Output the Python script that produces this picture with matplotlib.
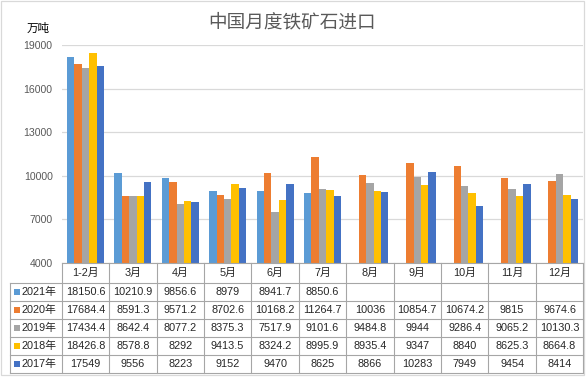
import numpy as np
import matplotlib
matplotlib.use("Agg")
import matplotlib.pyplot as plt
from matplotlib.patches import Rectangle
from matplotlib.lines import Line2D

plt.rcParams['font.family'] = ['Liberation Sans', 'Noto Sans CJK SC', 'DejaVu Sans']

months = ['1-2月', '3月', '4月', '5月', '6月', '7月', '8月', '9月', '10月', '11月', '12月']
series_names = ['2021年', '2020年', '2019年', '2018年', '2017年']
v2021 = [18150.6, 10210.9, 9856.6, 8979, 8941.7, 8850.6, None, None, None, None, None]
v2020 = [17684.4, 8591.3, 9571.2, 8702.6, 10168.2, 11264.7, 10036, 10854.7, 10674.2, 9815, 9674.6]
v2019 = [17434.4, 8642.4, 8077.2, 8375.3, 7517.9, 9101.6, 9484.8, 9944, 9286.4, 9065.2, 10130.3]
v2018 = [18426.8, 8578.8, 8292, 9413.5, 8324.2, 8995.9, 8935.4, 9347, 8840, 8625.3, 8664.8]
v2017 = [17549, 9556, 8223, 9152, 9470, 8625, 8866, 10283, 7949, 9454, 8414]
series_values = [v2021, v2020, v2019, v2018, v2017]
colors = ['#5B9BD5', '#ED7D31', '#A5A5A5', '#FFC000', '#4472C4']
yticks = [4000, 7000, 10000, 13000, 16000, 19000]

W, H = 586, 377
fig = plt.figure(figsize=(W / 100, H / 100), dpi=100)

# layout in pixels
ax_l, ax_r, ax_t, ax_b = 61.7, 583.3, 45, 263
ax = fig.add_axes([ax_l / W, 1 - ax_b / H, (ax_r - ax_l) / W, (ax_b - ax_t) / H])

n = len(series_names)
bw = 0.156
x = np.arange(len(months))
for i, (vals, c) in enumerate(zip(series_values, colors)):
    arr = np.array([np.nan if v is None else v for v in vals], dtype=float)
    ax.bar(x + (i - (n - 1) / 2) * bw, arr - yticks[0], bw, bottom=yticks[0], color=c, linewidth=0, zorder=3)

ax.set_xlim(-0.5, len(months) - 0.5)
ax.set_ylim(yticks[0], yticks[-1])
ax.set_yticks(yticks)
ax.set_yticklabels([str(t) for t in yticks])
ax.set_xticks([])
ax.tick_params(axis='y', length=0, pad=6.5, labelsize=7.6, labelcolor='#595959')
for s in ax.spines.values():
    s.set_visible(False)
ax.grid(axis='y', color='#D9D9D9', linewidth=0.9, zorder=0)

# overlay axes in pixel coordinates
ov = fig.add_axes([0, 0, 1, 1], zorder=5)
ov.set_xlim(0, W)
ov.set_ylim(H, 0)
ov.axis('off')
ov.patch.set_alpha(0)

# figure border
ov.add_patch(Rectangle((1, 1), W - 3, H - 3, fill=False, edgecolor='#D9D9D9', linewidth=0.9))

ov.text(292, 23, '中国月度铁矿石进口', ha='center', va='center', fontsize=13.4, color='#595959')
ov.text(38.5, 28.5, '万吨', ha='center', va='center', fontsize=8.3, color='#000000')

# data table
lc = '#A6A6A6'
lw = 0.8
col_w = (ax_r - ax_l) / len(months)
row_h = 18.0
hdr_top, hdr_bot = ax_b, 282.7
tbl_left = 10
tbl_bot = hdr_bot + row_h * n
tc = '#262626'
fs = 7.8

# vertical lines for month columns
for k in range(len(months) + 1):
    xx = ax_l + k * col_w
    ov.add_line(Line2D([xx, xx], [hdr_top, tbl_bot], color=lc, linewidth=lw))
ov.add_line(Line2D([tbl_left, tbl_left], [hdr_bot, tbl_bot], color=lc, linewidth=lw))
# horizontal lines
ov.add_line(Line2D([ax_l, ax_r], [hdr_top, hdr_top], color=lc, linewidth=lw))
for r in range(n + 1):
    yy = hdr_bot + r * row_h
    ov.add_line(Line2D([tbl_left, ax_r], [yy, yy], color=lc, linewidth=lw))

# header
for k, m in enumerate(months):
    ov.text(ax_l + (k + 0.5) * col_w, (hdr_top + hdr_bot) / 2 + 0.5, m, ha='center', va='center',
            fontsize=fs, color=tc)

# rows
for r, (name, vals, c) in enumerate(zip(series_names, series_values, colors)):
    yc = hdr_bot + (r + 0.5) * row_h
    ov.add_patch(Rectangle((14, yc - 3), 6, 6, facecolor=c, edgecolor='none'))
    ov.text(21, yc + 0.5, name, ha='left', va='center', fontsize=fs, color=tc)
    for k, v in enumerate(vals):
        if v is None:
            continue
        s = ('%g' % v)
        ov.text(ax_l + (k + 0.5) * col_w, yc + 0.5, s, ha='center', va='center', fontsize=fs, color=tc)

fig.savefig('out.png', dpi=100)
